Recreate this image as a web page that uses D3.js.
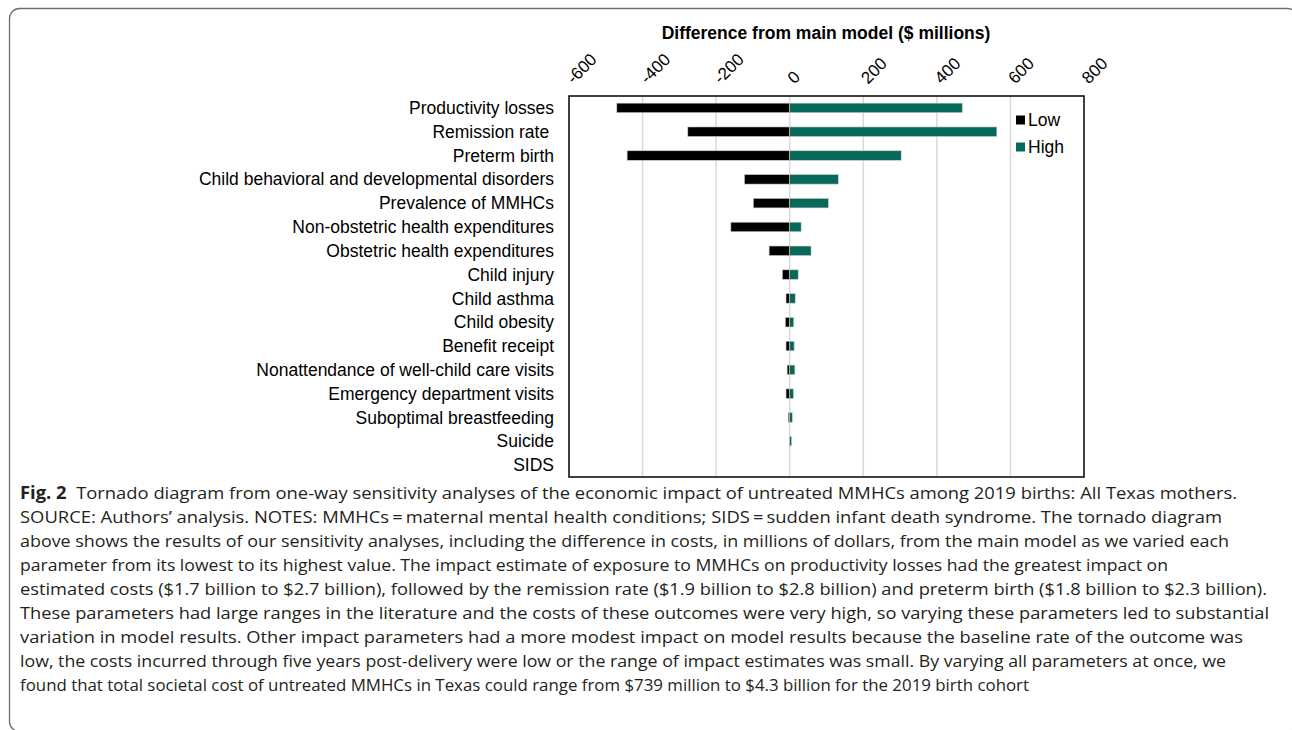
<!DOCTYPE html>
<html>
<head>
<meta charset="utf-8">
<script src="https://cdn.jsdelivr.net/npm/d3@7"></script>
<style>
  html, body { margin: 0; padding: 0; background: #fff; }
  svg { display: block; }
</style>
</head>
<body>
<svg id="chart" width="1292" height="730"></svg>
<script>
// ---------------- data ----------------
const categories = [
  "Productivity losses",
  "Remission rate ",
  "Preterm birth",
  "Child behavioral and developmental disorders",
  "Prevalence of MMHCs",
  "Non-obstetric health expenditures",
  "Obstetric health expenditures",
  "Child injury",
  "Child asthma",
  "Child obesity",
  "Benefit receipt",
  "Nonattendance of well-child care visits",
  "Emergency department visits",
  "Suboptimal breastfeeding",
  "Suicide",
  "SIDS"
];
const lowValues  = [-470, -277, -442, -123, -99, -160, -56, -20, -10, -12, -10, -7, -10, -4, -1, 0];
const highValues = [ 469,  563,  303,  132, 105,   31,  58,  23,  15,  11,  12,  14,  10,  7,  5, 0];
const tickValues = [-600, -400, -200, 0, 200, 400, 600, 800];
const tickLabels = ["-600", "-400", "-200", "0", "200", "400", "600", "800"];
const seriesNames = ["Low", "High"];
const axisTitle = "Difference from main model ($ millions)";
const captionLines = [
  ["Fig. 2", "  Tornado diagram from one-way sensitivity analyses of the economic impact of untreated MMHCs among 2019 births: All Texas mothers."],
  ["", "SOURCE: Authors\u2019 analysis. NOTES: MMHCs\u2009=\u2009maternal mental health conditions; SIDS\u2009=\u2009sudden infant death syndrome. The tornado diagram"],
  ["", "above shows the results of our sensitivity analyses, including the difference in costs, in millions of dollars, from the main model as we varied each"],
  ["", "parameter from its lowest to its highest value. The impact estimate of exposure to MMHCs on productivity losses had the greatest impact on"],
  ["", "estimated costs ($1.7 billion to $2.7 billion), followed by the remission rate ($1.9 billion to $2.8 billion) and preterm birth ($1.8 billion to $2.3 billion)."],
  ["", "These parameters had large ranges in the literature and the costs of these outcomes were very high, so varying these parameters led to substantial"],
  ["", "variation in model results. Other impact parameters had a more modest impact on model results because the baseline rate of the outcome was"],
  ["", "low, the costs incurred through five years post-delivery were low or the range of impact estimates was small. By varying all parameters at once, we"],
  ["", "found that total societal cost of untreated MMHCs in Texas could range from $739 million to $4.3 billion for the 2019 birth cohort"]
];
const captionEnds = [1237, 1222, 1229, 1168, 1267, 1269, 1243, 1226, 1029];

// ---------------- layout ----------------
const svg = d3.select("#chart");
const colors = { Low: "#000000", High: "#07695a" };
const plot = { left: 569, right: 1084, top: 96, bottom: 477 };
const sans = "Liberation Sans, Arial, sans-serif";

// outer rounded frame
svg.append("rect")
  .attr("x", 9.5).attr("y", 8.5)
  .attr("width", 1288).attr("height", 723)
  .attr("rx", 10).attr("ry", 10)
  .attr("fill", "none").attr("stroke", "#6e6e6e").attr("stroke-width", 1.3);

const x = d3.scaleLinear().domain([-600, 800]).range([plot.left, plot.right]);
const y = d3.scaleBand().domain(categories).range([plot.top, plot.bottom]).paddingInner(0).paddingOuter(0);

// gridlines
svg.append("g")
  .selectAll("line")
  .data(tickValues.filter(t => t > -600 && t < 800))
  .join("line")
  .attr("x1", d => x(d)).attr("x2", d => x(d))
  .attr("y1", plot.top).attr("y2", plot.bottom)
  .attr("stroke", "#d9d9d9").attr("stroke-width", 1.5);

// bars
const barH = 9.5;
const rows = categories.map((c, i) => ({ c, low: lowValues[i], high: highValues[i] }));
const bars = svg.append("g");
bars.selectAll("rect.low")
  .data(rows.filter(d => d.low !== 0))
  .join("rect")
  .attr("class", "low")
  .attr("x", d => x(d.low))
  .attr("width", d => x(0) - x(d.low))
  .attr("y", d => y(d.c) + y.bandwidth() / 2 - barH / 2)
  .attr("height", barH)
  .attr("fill", colors.Low)
  .attr("stroke", "#c8c8c8").attr("stroke-width", 0.6);
bars.selectAll("rect.high")
  .data(rows.filter(d => d.high !== 0))
  .join("rect")
  .attr("class", "high")
  .attr("x", x(0))
  .attr("width", d => x(d.high) - x(0))
  .attr("y", d => y(d.c) + y.bandwidth() / 2 - barH / 2)
  .attr("height", barH)
  .attr("fill", colors.High)
  .attr("stroke", "#c8c8c8").attr("stroke-width", 0.6);

// plot border
svg.append("rect")
  .attr("x", plot.left).attr("y", plot.top)
  .attr("width", plot.right - plot.left).attr("height", plot.bottom - plot.top)
  .attr("fill", "none").attr("stroke", "#000").attr("stroke-width", 1.5);

// top axis with rotated labels
const axis = d3.axisTop(x).tickValues(tickValues).tickSize(0)
  .tickFormat((d, i) => tickLabels[i]);
const ag = svg.append("g").attr("transform", `translate(0,${plot.top})`).call(axis);
ag.select(".domain").remove();
ag.selectAll("text")
  .attr("font-family", sans)
  .attr("font-size", 17)
  .attr("fill", "#000")
  .attr("text-anchor", "start")
  .attr("dy", "0.35em")
  .attr("y", 0)
  .attr("transform", "translate(0,-15.5) rotate(-45)");

// axis title
svg.append("text")
  .attr("x", 826)
  .attr("y", 39)
  .attr("text-anchor", "middle")
  .attr("font-family", sans)
  .attr("font-weight", "bold")
  .attr("font-size", 17.5)
  .text(axisTitle);

// category labels
svg.append("g")
  .selectAll("text")
  .data(categories)
  .join("text")
  .attr("x", 554)
  .attr("y", d => y(d) + y.bandwidth() / 2)
  .attr("dy", "0.35em")
  .attr("text-anchor", "end")
  .attr("font-family", sans)
  .attr("font-size", 17.5)
  .style("white-space", "pre")
  .text(d => d);

// legend
const lg = svg.append("g");
seriesNames.forEach((s, i) => {
  const ly = 120 + i * 27;
  lg.append("rect").attr("x", 1016).attr("y", ly - 4.5).attr("width", 9).attr("height", 9).attr("fill", colors[s]);
  lg.append("text").attr("x", 1028).attr("y", ly).attr("dy", "0.35em")
    .attr("font-family", sans).attr("font-size", 17.5).text(s);
});

// caption
const cap = svg.append("g");
captionLines.forEach((ln, i) => {
  const t = cap.append("text")
    .attr("x", 20)
    .attr("y", 499 + i * 24)
    .attr("font-family", "Open Sans, sans-serif")
    .attr("font-size", 17)
    .attr("fill", "#231f20")
    .attr("textLength", captionEnds[i] - 20)
    .attr("lengthAdjust", "spacingAndGlyphs")
    .style("white-space", "pre");
  if (ln[0]) t.append("tspan").attr("font-weight", "bold").text(ln[0]);
  t.append("tspan").text(ln[1]);
});
</script>
</body>
</html>
